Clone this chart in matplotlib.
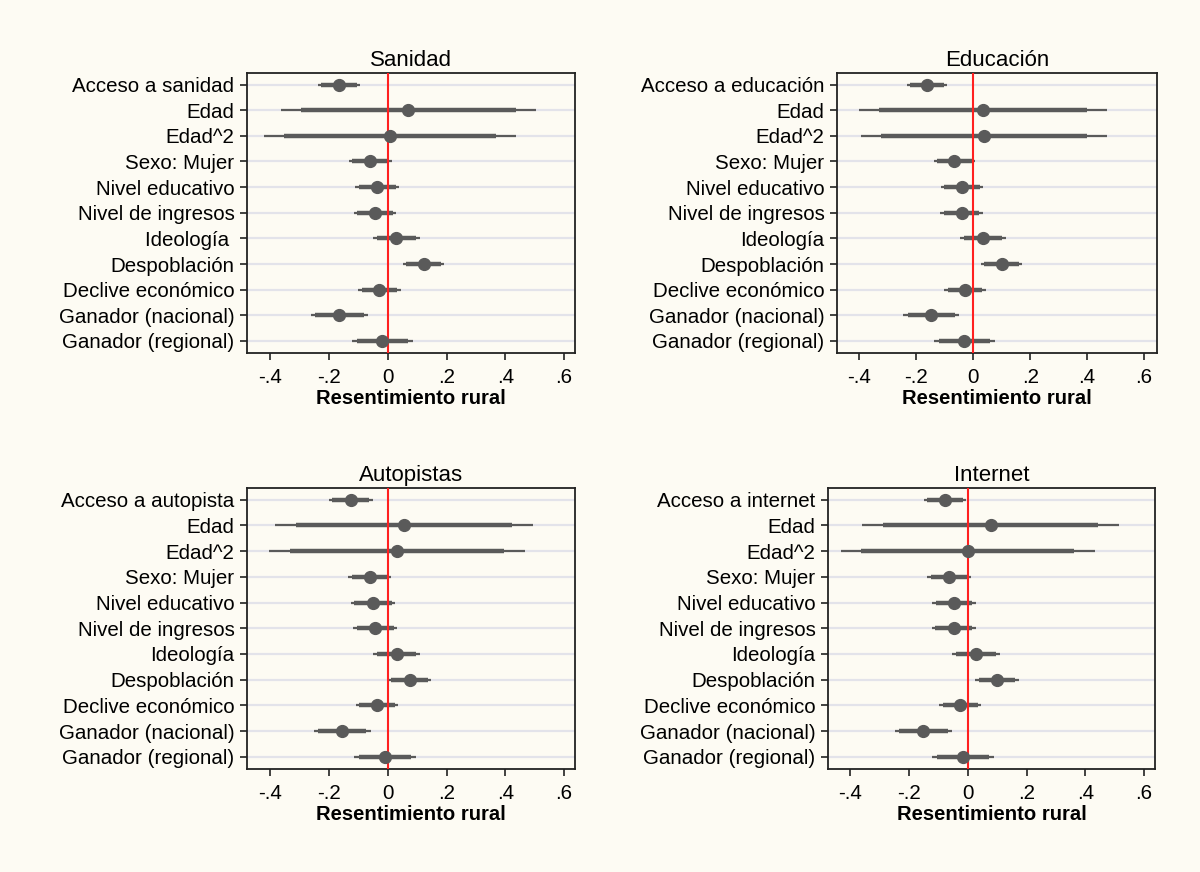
import numpy as np
import matplotlib.pyplot as plt

plt.rcParams['font.family'] = ['Liberation Sans', 'DejaVu Sans']

# variable labels (top to bottom)
base_labels = ["Edad", "Edad^2", "Sexo: Mujer", "Nivel educativo", "Nivel de ingresos",
               "Ideología", "Despoblación", "Declive económico",
               "Ganador (nacional)", "Ganador (regional)"]

titles = ["Sanidad", "Educación", "Autopistas", "Internet"]
first_labels = ["Acceso a sanidad", "Acceso a educación", "Acceso a autopista", "Acceso a internet"]

# coefficients and standard errors
coef_sanidad = [-0.167, 0.070, 0.008, -0.060, -0.036, -0.044, 0.029, 0.122, -0.029, -0.165, -0.019]
se_sanidad = [0.037, 0.222, 0.219, 0.037, 0.038, 0.037, 0.041, 0.036, 0.037, 0.050, 0.053]

coef_educacion = [-0.162, 0.034, 0.038, -0.066, -0.039, -0.041, 0.034, 0.100, -0.029, -0.148, -0.031]
se_educacion = [0.036, 0.222, 0.220, 0.037, 0.038, 0.038, 0.041, 0.037, 0.037, 0.050, 0.054]

coef_autopistas = [-0.126, 0.056, 0.031, -0.062, -0.051, -0.043, 0.030, 0.074, -0.037, -0.155, -0.010]
se_autopistas = [0.0385, 0.224, 0.2225, 0.0375, 0.0385, 0.038, 0.041, 0.038, 0.037, 0.0497, 0.054]

coef_internet = [-0.077, 0.078, 0.000, -0.064, -0.047, -0.048, 0.028, 0.099, -0.026, -0.151, -0.017]
se_internet = [0.037, 0.223, 0.2207, 0.0376, 0.038, 0.038, 0.041, 0.038, 0.036, 0.050, 0.0535]

coefs = [coef_sanidad, coef_educacion, coef_autopistas, coef_internet]
ses = [se_sanidad, se_educacion, se_autopistas, se_internet]

bg = '#FDFBF3'
dark = '#5a5a5a'

# axes rectangles in figure fractions
rects = [
    [247/1200, (872-353)/872, 328/1200, 280/872],
    [837/1200, (872-353)/872, 320/1200, 280/872],
    [247/1200, (872-769)/872, 328/1200, 281/872],
    [828/1200, (872-769)/872, 327/1200, 281/872],
]
xlims = [(-0.48, 0.6375), (-0.479, 0.646), (-0.48, 0.6375), (-0.476, 0.6375)]

fig = plt.figure(figsize=(12, 8.72), dpi=100, facecolor=bg)

for k in range(4):
    ax = fig.add_axes(rects[k])
    ax.set_facecolor(bg)
    labels = [first_labels[k]] + base_labels
    if k == 0:
        labels[6] = "Ideología "
    c = np.array(coefs[k])
    s = np.array(ses[k])
    y = np.arange(1, len(c) + 1)

    for yy in y:
        ax.axhline(yy, color='#e3e3ea', lw=1.6, zorder=0)
    ax.hlines(y, c - 1.96 * s, c + 1.96 * s, color=dark, lw=1.6, zorder=2)
    ax.hlines(y, c - 1.645 * s, c + 1.645 * s, color=dark, lw=3.2, zorder=3)
    ax.axvline(0, color='#ff2020', lw=1.5, zorder=4)
    ax.plot(c, y, 'o', color=dark, ms=8.5, zorder=5)

    ax.set_xlim(*xlims[k])
    ax.set_ylim(len(c) + 0.47, 0.55)
    ax.set_yticks(y)
    ax.set_yticklabels(labels, fontsize=14.8)
    ax.set_xticks([-0.4, -0.2, 0, 0.2, 0.4, 0.6])
    ax.set_xticklabels(['-.4', '-.2', '0', '.2', '.4', '.6'], fontsize=14.8)
    ax.tick_params(axis='both', length=5, width=1.2, color='#222222', pad=4)
    ax.tick_params(axis='x', pad=5.5)
    ax.set_xlabel('Resentimiento rural', fontsize=14.6, fontweight='bold', labelpad=2)
    ax.set_title(titles[k], fontsize=16, pad=5)
    for sp in ax.spines.values():
        sp.set_linewidth(1.3)
        sp.set_color('#222222')

fig.savefig('out.png', dpi=100, facecolor=bg)
